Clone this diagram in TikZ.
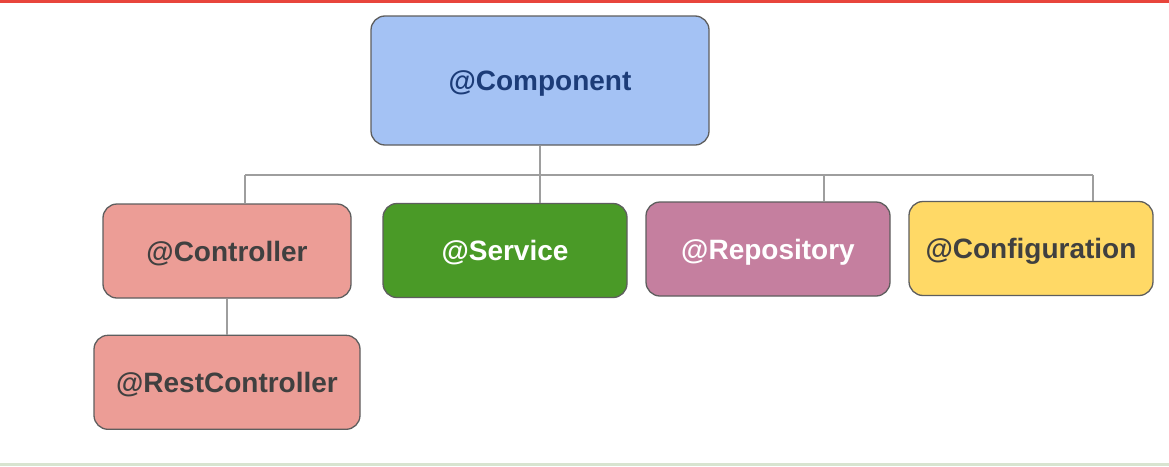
\documentclass[tikz,border=0pt]{standalone}
\usepackage{fontspec}
\setmainfont{Liberation Sans}
\usepackage{xcolor}
\definecolor{component-fill}{HTML}{A4C2F4}
\definecolor{component-text}{HTML}{1C3C78}
\definecolor{controller-fill}{HTML}{EC9D96}
\definecolor{service-fill}{HTML}{4A9A27}
\definecolor{repository-fill}{HTML}{C57F9F}
\definecolor{configuration-fill}{HTML}{FFD966}
\definecolor{label-dark}{HTML}{404040}
\definecolor{box-line}{HTML}{5E5E5E}
\definecolor{link-gray}{HTML}{9E9E9E}
\definecolor{top-bar}{HTML}{E8453C}
\definecolor{bottom-bar}{HTML}{D8E4D0}
\usetikzlibrary{positioning}

\begin{document}
\begin{tikzpicture}[
  x=1pt, y=-1pt,
  box/.style={
    draw=box-line,
    line width=1.3pt,
    rounded corners=14pt,
    inner sep=0pt,
    minimum width=244pt,
    minimum height=94pt,
    text height=20.5pt,
    text depth=0pt,
    font=\fontsize{28}{32}\selectfont\bfseries
  },
  link/.style={
    draw=link-gray,
    line width=1.5pt
  }
]

% Frame
\useasboundingbox (0,0) rectangle (1169,466);
\fill[white] (0,0) rectangle (1169,466);
\fill[top-bar] (0,0) rectangle (1169,2.5);
\fill[bottom-bar] (0,463) rectangle (1169,466);

% Boxes
\node[box, fill=component-fill, text=component-text, minimum width=338pt, minimum height=129pt] (component) at (540,80.5) {@Component};
\node[box, fill=controller-fill, text=label-dark, minimum width=248pt] (controller) at (227,251) {@Controller};
\node[box, fill=service-fill, text=white] (service) at (505,250.5) {@Service};
\node[box, fill=repository-fill, text=white] (repository) at (768,249) {@Repository};
\node[box, fill=configuration-fill, text=label-dark] (configuration) at (1031,248.5) {@Configuration};
\node[box, fill=controller-fill, text=label-dark, minimum width=266pt, below=36pt of controller] (restcontroller) {@RestController};

% Tree lines
\coordinate (bus) at (540,175);
\draw[link] (component.south) -- (bus);
\draw[link] ([xshift=18pt]controller.north |- bus) -- ([xshift=62pt]configuration.north |- bus);
\draw[link] ([xshift=18pt]controller.north) -- ([xshift=18pt]controller.north |- bus);
\draw[link] ([xshift=35pt]service.north) -- ([xshift=35pt]service.north |- bus);
\draw[link] ([xshift=56pt]repository.north) -- ([xshift=56pt]repository.north |- bus);
\draw[link] ([xshift=62pt]configuration.north) -- ([xshift=62pt]configuration.north |- bus);
\draw[link] (controller.south) -- (restcontroller.north);

\end{tikzpicture}
\end{document}
